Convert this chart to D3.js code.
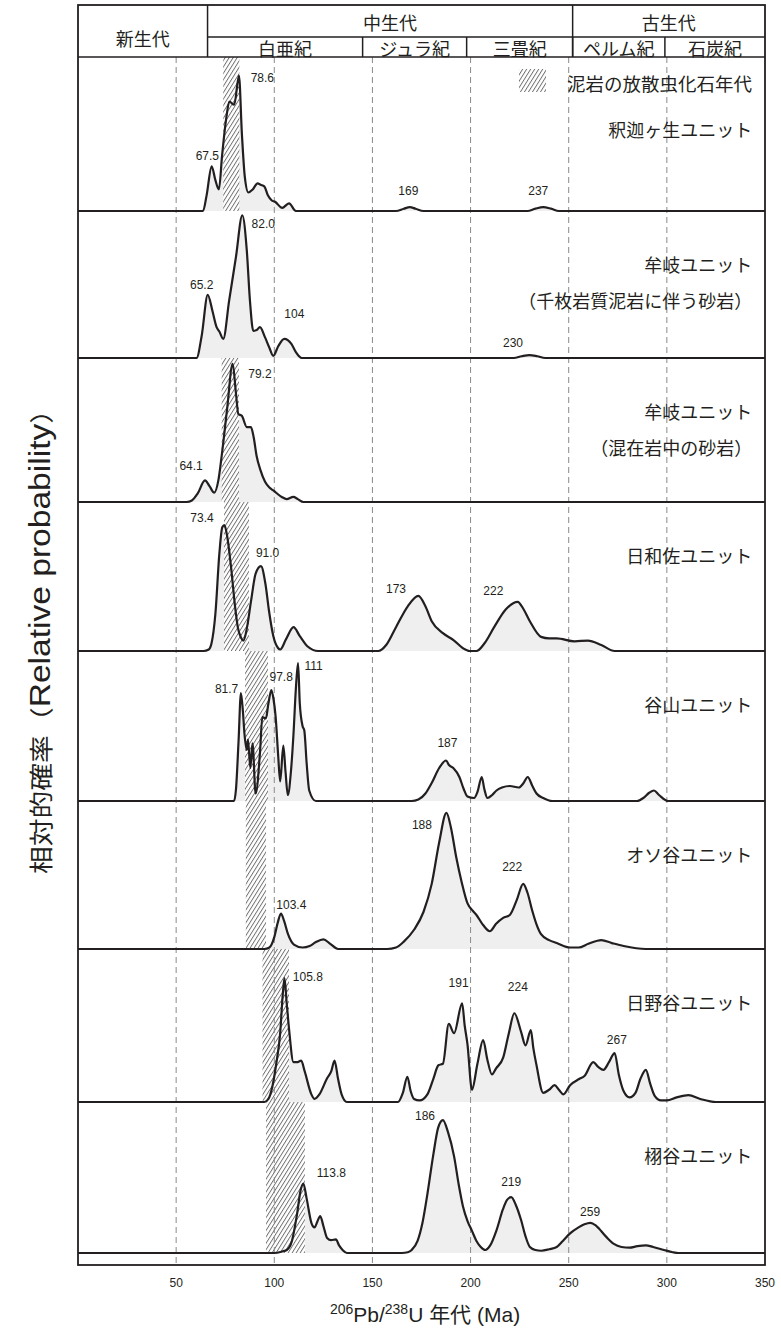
<!DOCTYPE html>
<html>
<head>
<meta charset="utf-8">
<script src="https://d3js.org/d3.v7.min.js"></script>
<style>
body { margin: 0; background: #fff; }
text { font-family: "Liberation Sans", Arial, sans-serif; fill: #231f20; }
.jp { font-family: "Noto Sans CJK JP", sans-serif; }
</style>
</head>
<body>
<script>
// geologic time scale (header)
const eras = ["新生代", "中生代", "古生代"];
const eraBounds = [0, 66, 252, 350];
const periods = ["白亜紀", "ジュラ紀", "三畳紀", "ペルム紀", "石炭紀"];
const periodBounds = [66, 145, 198, 252, 299, 350];
const xTicks = [50, 100, 150, 200, 250, 300, 350];

const unitNames = ["釈迦ヶ生ユニット", "牟岐ユニット", "牟岐ユニット", "日和佐ユニット",
  "谷山ユニット", "オソ谷ユニット", "日野谷ユニット", "栩谷ユニット"];
const unitNotes = ["", "（千枚岩質泥岩に伴う砂岩）", "（混在岩中の砂岩）", "", "", "", "", ""];

// radiolarian age of mudstone (hatched), Ma
const mudFrom = [74, null, 73.2, 74.4, 85.1, 85.5, 94, 95.8];
const mudTo   = [82.2, null, 82, 87.1, 96.8, 95.8, 107.5, 115.6];

// relative probability curves: [age Ma, relative probability]
const shakagao = [[0,0],[60,0],[63.7,0],[65.5,0.1],[68.1,0.29],[70,0.2],[71.8,0.14],[73.4,0.36],[75.5,0.6],[77.1,0.71],[79.6,0.69],[82,0.88],[83.5,0.5],[85,0.22],[86.8,0.12],[89,0.14],[91.5,0.18],[93,0.17],[94.9,0.16],[96.8,0.1],[98.6,0.07],[100.4,0.06],[104,0.02],[107.5,0.05],[111,0],[162,0],[166,0.015],[169,0.025],[172,0.015],[176,0],[229,0],[233,0.015],[237,0.025],[241,0.015],[245,0],[350,0]];
const mugi1 = [[0,0],[58,0],[60.4,0],[63,0.15],[66.1,0.43],[68.5,0.32],[70.6,0.21],[72,0.18],[74,0.13],[77,0.39],[80.5,0.69],[83.7,0.97],[86,0.73],[87.6,0.39],[89.3,0.185],[91,0.19],[92.7,0.21],[95.3,0.14],[97.5,0.07],[99.5,0.015],[102,0.08],[105.1,0.13],[108.8,0.095],[111,0.04],[114,0],[222,0],[226,0.012],[230,0.02],[234,0.012],[238,0],[350,0]];
const mugi2 = [[0,0],[55.4,0],[58,0.01],[61,0.06],[64.7,0.15],[67,0.11],[69.4,0.065],[71.5,0.15],[73.2,0.32],[76,0.65],[78.8,0.96],[80.5,0.75],[81.7,0.61],[83.4,0.6],[86,0.52],[88.1,0.52],[89.5,0.45],[91,0.32],[93,0.22],[95.3,0.14],[97.5,0.1],[99.5,0.08],[103.8,0.035],[106.3,0.02],[109.7,0.035],[112,0.02],[114.8,0],[350,0]];
const hiwasa = [[0,0],[64,0],[66.6,0.01],[68,0.05],[70,0.25],[72,0.65],[73.5,0.83],[74.6,0.845],[76,0.77],[78,0.56],[80,0.3],[81.4,0.16],[83,0.09],[84.3,0.07],[86,0.15],[88.2,0.34],[90.5,0.52],[93.2,0.57],[95.5,0.45],[97.3,0.27],[99.5,0.1],[101.9,0.02],[103,0.01],[106,0.08],[109.8,0.16],[113,0.1],[117,0.03],[122.3,0],[153,0],[157,0.04],[162,0.16],[168,0.3],[173.4,0.37],[177,0.3],[180.2,0.2],[185.9,0.12],[191.6,0.07],[196,0.02],[199.5,0],[203,0],[207,0.05],[212,0.16],[218,0.28],[224,0.33],[227,0.28],[230.2,0.2],[235.9,0.095],[240,0.085],[243.9,0.085],[253,0.065],[259.8,0.07],[266.6,0.04],[273.4,0],[350,0]];
const taniyama = [[0,0],[79.5,0],[80.5,0.08],[81.8,0.4],[83,0.72],[84,0.6],[84.8,0.45],[86,0.34],[86.6,0.41],[87.8,0.22],[88.9,0.385],[90.5,0.05],[92.8,0.34],[93.9,0.56],[95.7,0.55],[97,0.65],[98.5,0.74],[99.6,0.68],[100.7,0.56],[102,0.3],[103,0.13],[104.6,0.37],[105.7,0.2],[106.9,0.04],[108.5,0.2],[109.8,0.45],[111,0.75],[112.1,0.92],[113,0.65],[114.4,0.5],[115.3,0.47],[116.5,0.25],[117.8,0.07],[121.2,0],[170,0],[173.4,0.01],[177,0.05],[180.2,0.12],[184,0.22],[187.5,0.27],[189,0.24],[191.2,0.22],[194.3,0.16],[196.5,0.08],[198.4,0.03],[201.8,0.02],[203.5,0.06],[205.7,0.16],[207,0.08],[208.6,0.02],[211,0.04],[213.2,0.07],[216,0.09],[220,0.1],[224.6,0.09],[227,0.12],[229.1,0.16],[231.5,0.1],[233.6,0.05],[237,0.02],[241.6,0],[284.8,0],[288,0.02],[291,0.055],[293.4,0.07],[296,0.04],[300.7,0],[350,0]];
const osodani = [[0,0],[95,0],[97.5,0.01],[100,0.08],[101.8,0.18],[103.4,0.24],[105,0.19],[107,0.1],[110,0.03],[114.4,0.01],[118,0.02],[121,0.045],[125,0.065],[128.5,0.035],[132.5,0],[157.5,0],[162,0.01],[166,0.05],[171.2,0.13],[176,0.25],[180.2,0.44],[184,0.72],[187.7,0.92],[190,0.82],[192.7,0.62],[195.5,0.45],[198.4,0.31],[201,0.26],[203,0.23],[206.5,0.16],[209.8,0.12],[213,0.17],[216.6,0.21],[220,0.23],[223.5,0.33],[226.8,0.44],[229,0.38],[231.4,0.26],[233.5,0.17],[235.9,0.1],[240,0.06],[243.9,0.04],[250.7,0.01],[255,0.01],[260,0.035],[266.6,0.06],[272,0.04],[278,0.02],[289.3,0],[350,0]];
const hinodani = [[0,0],[95,0],[97,0.02],[99,0.1],[101,0.25],[103,0.45],[104.3,0.7],[105.2,0.81],[106.3,0.65],[107.5,0.48],[109.8,0.26],[111.5,0.26],[113.7,0.27],[115.5,0.2],[118.9,0.05],[120.5,0.02],[123,0.05],[126.9,0.155],[129,0.2],[130.7,0.27],[132.5,0.15],[134.3,0.05],[137,0],[163,0],[165.5,0.06],[167.8,0.165],[169.5,0.07],[171.2,0.02],[174,0.01],[178,0.05],[181,0.15],[183.6,0.24],[185.9,0.25],[188.9,0.51],[191.6,0.45],[195.7,0.645],[197,0.5],[198.4,0.38],[200.7,0.08],[203.5,0.25],[206.4,0.405],[208.5,0.28],[210.9,0.18],[213,0.22],[216.6,0.29],[219.5,0.45],[222.3,0.58],[225.7,0.46],[228,0.37],[230.7,0.47],[232,0.35],[233.6,0.24],[237,0.06],[240,0.08],[242.8,0.11],[245,0.08],[247.3,0.05],[250.7,0.11],[255.3,0.15],[258,0.17],[262.5,0.26],[265,0.23],[267.7,0.21],[270.5,0.26],[273.4,0.32],[275.5,0.18],[278,0.07],[281,0.03],[284,0.06],[286.5,0.15],[289.3,0.21],[291.5,0.12],[293.8,0.04],[297,0.01],[300,0.01],[305,0.03],[311,0.045],[317,0.02],[325,0],[350,0]];
const tochidani = [[0,0],[100,0],[104,0.01],[106.4,0.02],[109,0.08],[111.5,0.25],[113.5,0.42],[114.8,0.46],[116.5,0.36],[118.9,0.2],[120.5,0.17],[122,0.21],[123.4,0.245],[125,0.18],[126.9,0.1],[129,0.085],[131.4,0.09],[133,0.05],[134.8,0.02],[137,0],[165,0],[168,0.005],[170,0.02],[173,0.08],[175.5,0.2],[178,0.39],[181,0.65],[183.5,0.83],[185.9,0.88],[188.5,0.8],[191.6,0.64],[194,0.45],[196.1,0.31],[198.5,0.21],[200.6,0.15],[203,0.08],[205.2,0.04],[207.5,0.02],[210,0.05],[213.2,0.15],[216.5,0.29],[218.5,0.35],[220.7,0.37],[223,0.32],[225.7,0.22],[228,0.11],[230.2,0.04],[233,0.02],[236,0.015],[240,0.025],[243.9,0.04],[247,0.08],[250.7,0.13],[255,0.17],[258,0.19],[261,0.2],[264,0.18],[268.9,0.11],[273,0.06],[276.9,0.04],[281,0.035],[285,0.045],[289.3,0.05],[293,0.04],[298.5,0.02],[303,0.005],[306,0],[350,0]];
const curves = [shakagao, mugi1, mugi2, hiwasa, taniyama, osodani, hinodani, tochidani];

// peak age labels: [text, age, rel. prob] (label centre)
const peakLabels = [
  [["67.5",65.9,0.36],["78.6",93.9,0.866],["169",168.3,0.13],["237",234.5,0.13]],
  [["65.2",63,0.5],["82.0",94.4,0.91],["104",110.2,0.3],["230",221.6,0.1]],
  [["64.1",57.6,0.25],["79.2",92.7,0.89]],
  [["73.4",63.2,0.89],["91.0",96.6,0.656],["173",162,0.414],["222",211.6,0.405]],
  [["81.7",75.7,0.745],["97.8",103.5,0.83],["111",120,0.9],["187",188.2,0.39]],
  [["103.4",108.7,0.3],["188",175.2,0.84],["222",221.2,0.556]],
  [["105.8",117.1,0.82],["191",193.9,0.78],["224",224.1,0.75],["267",274.5,0.405]],
  [["113.8",129.1,0.53],["186",176.8,0.91],["219",220.7,0.47],["259",260.9,0.27]]
];

const ink = "#231f20";
const svg = d3.select("body").append("svg")
  .attr("width", 781).attr("height", 1336);

const x = d3.scaleLinear().domain([0, 350]).range([78, 765]);
const headTop = 5, headMid = 37, headBottom = 57, axisY = 1265;
const panelEdges = [57, 211, 358, 502, 651, 801, 949, 1102, 1253];

// hatch pattern
const pat = svg.append("defs").append("pattern")
  .attr("id", "hatch").attr("patternUnits", "userSpaceOnUse")
  .attr("width", 3.4).attr("height", 6)
  .attr("patternTransform", "rotate(32)");
pat.append("rect").attr("width", 3.4).attr("height", 6).attr("fill", "#fff");
pat.append("line").attr("x1", 0.5).attr("y1", 0).attr("x2", 0.5).attr("y2", 6)
  .attr("stroke", ink).attr("stroke-width", 0.65);

const ys = curves.map((c, i) => d3.scaleLinear().domain([0, 1])
  .range([panelEdges[i + 1], panelEdges[i]]));

// fills
curves.forEach(function(c, i) {
  svg.append("path").datum(c)
    .attr("fill", "#efefef")
    .attr("d", d3.area().x(d => x(d[0])).y0(ys[i](0)).y1(d => ys[i](d[1]))
      .curve(d3.curveMonotoneX));
});

// hatched boxes
curves.forEach(function(c, i) {
  if (mudFrom[i] == null) return;
  svg.append("rect")
    .attr("x", x(mudFrom[i])).attr("width", x(mudTo[i]) - x(mudFrom[i]))
    .attr("y", ys[i](1)).attr("height", ys[i](0) - ys[i](1))
    .attr("fill", "url(#hatch)");
});

// dashed grid
svg.append("g").selectAll("line").data(xTicks.slice(0, -1)).enter().append("line")
  .attr("x1", d => x(d)).attr("x2", d => x(d))
  .attr("y1", headBottom).attr("y2", axisY)
  .attr("stroke", "#8a8a8a").attr("stroke-width", 1)
  .attr("stroke-dasharray", "6,4");

// curves
curves.forEach(function(c, i) {
  svg.append("path").datum(c)
    .attr("fill", "none").attr("stroke", ink).attr("stroke-width", 2.2)
    .attr("stroke-linejoin", "round")
    .attr("d", d3.line().x(d => x(d[0])).y(d => ys[i](d[1]))
      .curve(d3.curveMonotoneX));
});

// peak labels
peakLabels.forEach(function(list, i) {
  svg.append("g").selectAll("text").data(list).enter().append("text")
    .attr("x", d => x(d[1])).attr("y", d => ys[i](d[2]))
    .attr("text-anchor", "middle").attr("dominant-baseline", "central")
    .attr("font-size", 12)
    .text(d => d[0]);
});

// unit names
unitNames.forEach(function(name, i) {
  const top = panelEdges[i] + (i == 0 ? 72 : 53);
  svg.append("text").attr("class", "jp")
    .attr("x", x(343.5)).attr("y", top)
    .attr("text-anchor", "end").attr("dominant-baseline", "central")
    .attr("font-size", 18).text(name);
  if (unitNotes[i]) {
    svg.append("text").attr("class", "jp")
      .attr("x", x(343.5)).attr("y", top + 36)
      .attr("text-anchor", "end").attr("dominant-baseline", "central")
      .attr("font-size", 18).text(unitNotes[i]);
  }
});

// legend
svg.append("rect").attr("x", 519).attr("y", 69).attr("width", 27).attr("height", 23)
  .attr("fill", "url(#hatch)");
svg.append("text").attr("class", "jp")
  .attr("x", 567).attr("y", 83).attr("dominant-baseline", "central")
  .attr("font-size", 18.5).text("泥岩の放散虫化石年代");

// header
const hdr = svg.append("g").attr("stroke", ink).attr("stroke-width", 1.5);
hdr.append("line").attr("x1", x(eraBounds[1])).attr("x2", x(350))
  .attr("y1", headMid).attr("y2", headMid);
eraBounds.slice(1, -1).forEach(b => hdr.append("line")
  .attr("x1", x(b)).attr("x2", x(b)).attr("y1", headTop).attr("y2", headBottom));
periodBounds.slice(1, -1).forEach(b => hdr.append("line")
  .attr("x1", x(b)).attr("x2", x(b)).attr("y1", headMid).attr("y2", headBottom));
hdr.append("line").attr("x1", x(0)).attr("x2", x(350))
  .attr("y1", headBottom).attr("y2", headBottom);

eras.forEach(function(e, i) {
  svg.append("text").attr("class", "jp")
    .attr("x", (x(eraBounds[i]) + x(eraBounds[i + 1])) / 2)
    .attr("y", i == 0 ? 38 : 22)
    .attr("text-anchor", "middle").attr("dominant-baseline", "central")
    .attr("font-size", 18).text(e);
});
periods.forEach(function(p, i) {
  svg.append("text").attr("class", "jp")
    .attr("x", (x(periodBounds[i]) + x(periodBounds[i + 1])) / 2)
    .attr("y", (headMid + headBottom) / 2 + 1)
    .attr("text-anchor", "middle").attr("dominant-baseline", "central")
    .attr("font-size", 18).text(p);
});

// frame
svg.append("rect").attr("x", x(0)).attr("y", headTop)
  .attr("width", x(350) - x(0)).attr("height", axisY - headTop)
  .attr("fill", "none").attr("stroke", ink).attr("stroke-width", 1.8);

// x tick labels
svg.append("g").selectAll("text").data(xTicks).enter().append("text")
  .attr("x", d => x(d)).attr("y", axisY + 18)
  .attr("text-anchor", "middle").attr("dominant-baseline", "central")
  .attr("font-size", 12).text(d => d);

// axis titles
const xt = svg.append("text").attr("x", 425).attr("y", 1322)
  .attr("text-anchor", "middle").attr("font-size", 21);
xt.append("tspan").attr("font-size", 14).attr("dy", -8).text("206");
xt.append("tspan").attr("dy", 8).text("Pb/");
xt.append("tspan").attr("font-size", 14).attr("dy", -8).text("238");
xt.append("tspan").attr("dy", 8).text("U ");
xt.append("tspan").attr("class", "jp").text("年代");
xt.append("tspan").text(" (Ma)");

const yt = svg.append("text")
  .attr("transform", "translate(50,635) rotate(-90)")
  .attr("text-anchor", "middle").attr("font-size", 24)
  .attr("textLength", 478).attr("lengthAdjust", "spacingAndGlyphs");
yt.append("tspan").attr("class", "jp").text("相対的確率（");
yt.append("tspan").attr("font-size", 29).text("Relative probability");
yt.append("tspan").attr("class", "jp").text("）");
</script>
</body>
</html>
